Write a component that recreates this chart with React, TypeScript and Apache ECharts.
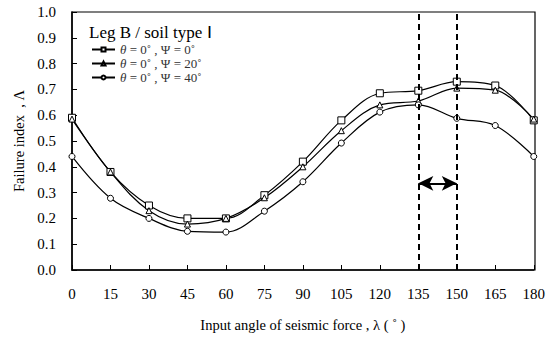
import React, { useEffect, useRef } from "react";
import * as echarts from "echarts";

const angles = [0, 15, 30, 45, 60, 75, 90, 105, 120, 135, 150, 165, 180];
const psi0 = [0.59, 0.38, 0.25, 0.2, 0.2, 0.29, 0.42, 0.58, 0.685, 0.695, 0.73, 0.715, 0.58];
const psi20 = [0.585, 0.38, 0.23, 0.178, 0.2, 0.28, 0.4, 0.54, 0.64, 0.655, 0.705, 0.697, 0.585];
const psi40 = [0.44, 0.278, 0.2, 0.15, 0.147, 0.228, 0.342, 0.492, 0.612, 0.64, 0.588, 0.56, 0.44];
const seriesNames = ["{i|θ} = 0˚ , Ψ = 0˚", "{i|θ} = 0˚ , Ψ = 20˚", "{i|θ} = 0˚ , Ψ = 40˚"];
const seriesKeys = ["s0", "s20", "s40"];
const symbols = ["rect", "triangle", "circle"];
const symbolSizes = [7, 6, 6];
const rangeLines = [135, 150];
const arrowY = 0.336;
const chartTitle = "Leg B / soil type Ⅰ";
const yName = "Failure index  , Λ";
const xName = "Input angle of seismic force , λ ( ˚ )";

const FONT = "'Liberation Serif', 'Times New Roman', serif";

export default function App() {
  const ref = useRef<HTMLDivElement>(null);
  useEffect(() => {
    document.body.style.margin = "0";
    const chart = echarts.init(ref.current!, null, { renderer: "svg" });
    const dataSets = [psi0, psi20, psi40];
    const series: any[] = dataSets.map((d, i) => ({
      name: seriesKeys[i],
      type: "line",
      data: angles.map((a, j) => [a, d[j]]),
      smooth: 0.35,
      symbol: symbols[i],
      symbolSize: symbolSizes[i],
      showAllSymbol: true,
      lineStyle: { color: "#000", width: 1.2 },
      itemStyle: { color: "#fff", borderColor: "#000", borderWidth: 1 },
      z: 3,
    }));
    series.push({
      type: "line",
      data: [],
      markLine: {
        silent: true,
        animation: false,
        symbol: ["none", "none"],
        label: { show: false },
        lineStyle: { color: "#000", width: 2, type: [6, 4] },
        data: rangeLines.map((x) => ({ xAxis: x })),
      },
    });
    series.push({
      type: "line",
      data: [],
      markLine: {
        silent: true,
        animation: false,
        symbol: ["arrow", "arrow"],
        symbolSize: [11, 15],
        label: { show: false },
        lineStyle: { color: "#000", width: 2, type: "solid" },
        itemStyle: { color: "#000" },
        data: [[{ coord: [rangeLines[0], arrowY] }, { coord: [rangeLines[1], arrowY] }]],
      },
    });
    chart.setOption({
      animation: false,
      backgroundColor: "#fff",
      textStyle: { fontFamily: FONT },
      legend: {
        orient: "vertical",
        left: 86,
        top: 38,
        itemWidth: 23,
        itemHeight: 5,
        itemGap: 1,
        data: seriesKeys,
        formatter: (n: string) => seriesNames[seriesKeys.indexOf(n)],
        textStyle: {
          fontFamily: FONT,
          fontSize: 13,
          lineHeight: 13,
          color: "#333",
          rich: { i: { fontStyle: "italic", fontFamily: FONT, fontSize: 13, lineHeight: 13, color: "#333" } },
        },
      },
      grid: { left: 72, right: 13, top: 12, bottom: 68 },
      xAxis: {
        type: "value",
        min: 0,
        max: 180,
        interval: 15,
        name: xName,
        nameLocation: "middle",
        nameGap: 47,
        nameTextStyle: { fontFamily: FONT, fontSize: 14.5, color: "#000" },
        axisLine: { show: true, onZero: false, lineStyle: { color: "#000", width: 1.5 } },
        axisTick: { show: true, inside: true, length: 5, lineStyle: { color: "#000" } },
        axisLabel: { margin: 16, fontFamily: FONT, fontSize: 15, color: "#000" },
        splitLine: { show: false },
      },
      yAxis: {
        type: "value",
        min: 0,
        max: 1,
        interval: 0.1,
        name: yName,
        nameLocation: "middle",
        nameRotate: 90,
        nameGap: 40,
        nameTextStyle: { fontFamily: FONT, fontSize: 14.5, color: "#000" },
        axisLine: { show: true, lineStyle: { color: "#000", width: 1.5 } },
        axisTick: { show: true, inside: true, length: 5, lineStyle: { color: "#000" } },
        axisLabel: {
          margin: 16,
          fontFamily: FONT,
          fontSize: 15,
          color: "#000",
          formatter: (v: number) => v.toFixed(1),
        },
        splitLine: { show: false },
      },
      graphic: [
        {
          type: "rect",
          shape: { x: 72, y: 12, width: 463, height: 258 },
          style: { fill: "none", stroke: "#000", lineWidth: 1.2 },
          silent: true,
          z: 0,
        },
        {
          type: "text",
          x: 89,
          y: 24,
          style: {
            text: chartTitle,
            font: "17px " + FONT,
            fill: "#000",
            verticalAlign: "top",
          },
          z: 10,
        },
      ],
      series,
    });
    return () => chart.dispose();
  }, []);
  return <div ref={ref} style={{ width: 548, height: 338 }} />;
}
